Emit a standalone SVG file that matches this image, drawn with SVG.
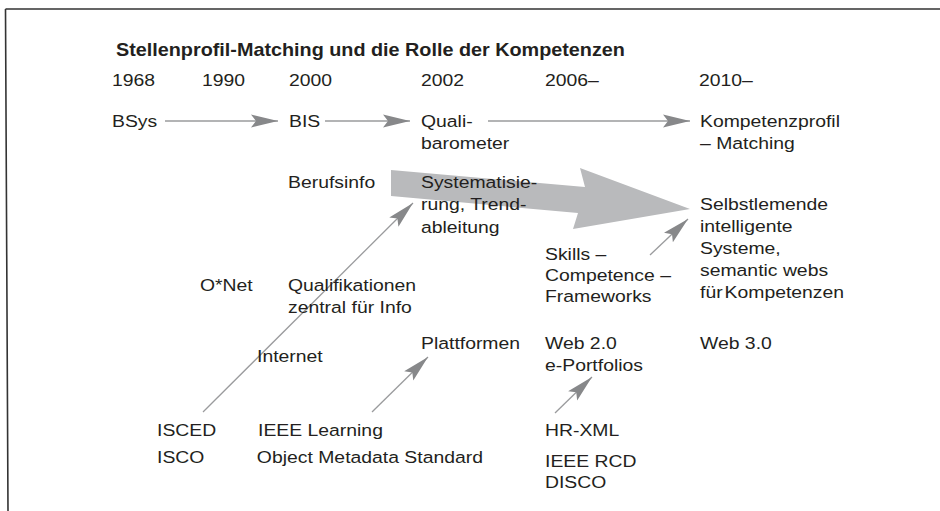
<svg xmlns="http://www.w3.org/2000/svg" width="940" height="511" viewBox="0 0 940 511">
<style>
  text { font-family: "Liberation Sans", Arial, sans-serif; fill: #231f20; }
  .t { font-size: 17px; }
  .title { font-size: 18px; font-weight: bold; }
  .ln { stroke: #9a9b9d; stroke-width: 1.3; fill: none; }
  .frame { stroke: #333; stroke-width: 1.6; fill: none; }
</style>
<defs>
  <marker id="ah" markerUnits="userSpaceOnUse" markerWidth="28" markerHeight="14" refX="27" refY="7" orient="auto">
    <path d="M0,0.5 L27,7 L0,13.5 L5,7 Z" fill="#87888a"/>
  </marker>
</defs>
<rect width="940" height="511" fill="#fff"/>
<path class="frame" d="M5.5,9 L940,9 M5.5,9 L8,511"/>

<g id="title"><text class="title" transform="translate(116 56) scale(1.1 1)">Stellenprofil-Matching und die Rolle der Kompetenzen</text></g>

<g id="years">
  <text class="t" transform="translate(112 86) scale(1.14 1)">1968</text>
  <text class="t" transform="translate(202 86) scale(1.14 1)">1990</text>
  <text class="t" transform="translate(289 86) scale(1.14 1)">2000</text>
  <text class="t" transform="translate(421 86) scale(1.14 1)">2002</text>
  <text class="t" transform="translate(545 86) scale(1.14 1)">2006–</text>
  <text class="t" transform="translate(699 86) scale(1.14 1)">2010–</text>
</g>

<g id="bigarrow">
  <polygon points="391,170 585,187 580,168 690,209 573,229 578,213 391,196" fill="#b9babc"/>
</g>

<g id="connectors">
  <line class="ln" x1="165" y1="121" x2="278" y2="121" marker-end="url(#ah)"/>
  <line class="ln" x1="325" y1="121" x2="410" y2="121" marker-end="url(#ah)"/>
  <line class="ln" x1="488" y1="121" x2="690" y2="121" marker-end="url(#ah)"/>
  <line class="ln" x1="203" y1="412" x2="413" y2="203" marker-end="url(#ah)"/>
  <line class="ln" x1="372" y1="412" x2="428" y2="357" marker-end="url(#ah)"/>
  <line class="ln" x1="555" y1="413" x2="592" y2="377" marker-end="url(#ah)"/>
  <line class="ln" x1="650" y1="255" x2="688" y2="219" marker-end="url(#ah)"/>
</g>

<g id="bsys"><text class="t" transform="translate(112 127) scale(1.14 1)">BSys</text></g>
<g id="bis"><text class="t" transform="translate(289 127) scale(1.14 1)">BIS</text></g>
<g id="quali"><text class="t" transform="translate(421 127) scale(1.14 1)">Quali-<tspan x="0" dy="22">barometer</tspan></text></g>
<g id="kompetenzprofil"><text class="t" transform="translate(700 127) scale(1.14 1)">Kompetenzprofil<tspan x="0" dy="22">– Matching</tspan></text></g>

<g id="berufsinfo"><text class="t" transform="translate(288 188) scale(1.14 1)">Berufsinfo</text></g>
<g id="systematisierung"><text class="t" transform="translate(421 188) scale(1.14 1)">Systematisie-<tspan x="0" dy="22.5">rung, Trend-</tspan><tspan x="0" dy="22.5">ableitung</tspan></text></g>
<g id="selbstlernende"><text class="t" transform="translate(700 210) scale(1.14 1)">Selbstlemende<tspan x="0" dy="22">intelligente</tspan><tspan x="0" dy="22">Systeme,</tspan><tspan x="0" dy="22">semantic webs</tspan><tspan x="0" dy="22" word-spacing="-3">für Kompetenzen</tspan></text></g>

<g id="skills"><text class="t" transform="translate(545 260) scale(1.14 1)">Skills –<tspan x="0" dy="21">Competence –</tspan><tspan x="0" dy="21">Frameworks</tspan></text></g>
<g id="onet"><text class="t" transform="translate(200 291) scale(1.14 1)">O*Net</text></g>
<g id="qualifikationen"><text class="t" transform="translate(288 291) scale(1.14 1)">Qualifikationen<tspan x="0" dy="22">zentral für Info</tspan></text></g>

<g id="internet"><text class="t" transform="translate(257 362) scale(1.14 1)">Internet</text></g>
<g id="plattformen"><text class="t" transform="translate(421 349) scale(1.14 1)">Plattformen</text></g>
<g id="web2"><text class="t" transform="translate(545 349) scale(1.14 1)">Web 2.0<tspan x="0" dy="22">e-Portfolios</tspan></text></g>
<g id="web3"><text class="t" transform="translate(700 349) scale(1.14 1)">Web 3.0</text></g>

<g id="isced"><text class="t" transform="translate(157 436) scale(1.14 1)">ISCED<tspan x="0" dy="27">ISCO</tspan></text></g>
<g id="ieee"><text class="t" transform="translate(258 436) scale(1.14 1)">IEEE Learning<tspan x="-1" dy="27">Object Metadata Standard</tspan></text></g>
<g id="hrxml"><text class="t" transform="translate(545 436) scale(1.14 1)">HR-XML<tspan x="0" dy="31">IEEE RCD</tspan><tspan x="0" dy="21">DISCO</tspan></text></g>
</svg>
